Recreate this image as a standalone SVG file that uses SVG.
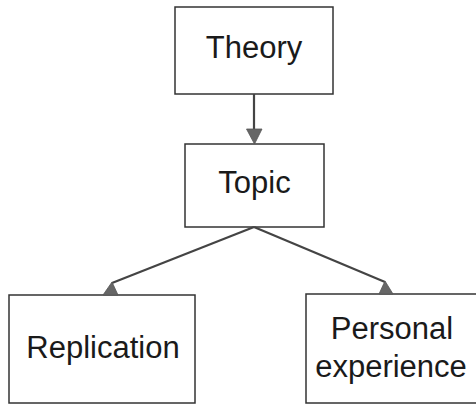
<svg xmlns="http://www.w3.org/2000/svg" width="476" height="404" viewBox="0 0 476 404">
<style>
.box{fill:#fff;stroke:#333;stroke-width:1.5}
.lbl{font-family:"Liberation Sans",Arial,sans-serif;font-size:31px;fill:#1a1a1a;text-anchor:middle}
.edge{stroke:#444;stroke-width:2.2;fill:none}
.head{fill:#666;stroke:#555;stroke-width:0.8}
</style>
<rect width="476" height="404" fill="#fff"/>
<g id="theory">
<rect class="box" x="175" y="7" width="158" height="87"/>
<text class="lbl" x="254" y="58">Theory</text>
</g>
<g id="topic">
<rect class="box" x="185" y="144" width="139" height="83"/>
<text class="lbl" x="254.5" y="193">Topic</text>
</g>
<g id="replication">
<rect class="box" x="9" y="295" width="186" height="108"/>
<text class="lbl" x="103" y="358">Replication</text>
</g>
<g id="personal">
<rect class="box" x="306" y="294" width="175" height="109"/>
<text class="lbl" x="392" y="339">Personal</text>
<text class="lbl" x="391" y="377">experience</text>
</g>
<g id="connectors">
<line class="edge" x1="254" y1="94" x2="254" y2="130"/>
<polygon class="head" points="246.5,129 262,129 254.5,144"/>
<line class="edge" x1="254" y1="227" x2="112" y2="283"/>
<polygon class="head" points="103,295 118,295 112,282"/>
<line class="edge" x1="254" y1="227" x2="385" y2="282"/>
<polygon class="head" points="379,294 393,294 385,281"/>
</g>
</svg>
